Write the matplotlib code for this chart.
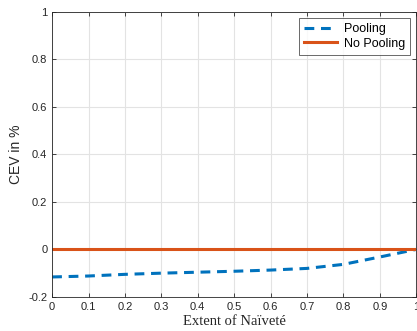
import matplotlib
matplotlib.use("Agg")
import matplotlib.pyplot as plt
import numpy as np

naivete = [0, 0.1, 0.2, 0.3, 0.4, 0.5, 0.6, 0.7, 0.8, 0.9, 1.0]
pooling = [-0.116, -0.112, -0.105, -0.100, -0.096, -0.092, -0.087, -0.080, -0.063, -0.032, 0.0]
no_pooling = [0.0] * len(naivete)

xticks = [0, 0.1, 0.2, 0.3, 0.4, 0.5, 0.6, 0.7, 0.8, 0.9, 1]
xticklabels = ["0", "0.1", "0.2", "0.3", "0.4", "0.5", "0.6", "0.7", "0.8", "0.9", "1"]
yticks = [-0.2, 0, 0.2, 0.4, 0.6, 0.8, 1]
yticklabels = ["-0.2", "0", "0.2", "0.4", "0.6", "0.8", "1"]

plt.rcParams['font.family'] = ['Liberation Sans', 'DejaVu Sans']

fig = plt.figure(figsize=(4.17, 3.31), dpi=100)
ax = fig.add_axes([0.125, 0.103, 0.873, 0.861])

ax.plot(naivete, pooling, linestyle=(0, (3.2, 2.2)), color='#0072BD', lw=2.2, label='Pooling')
ax.plot(naivete, no_pooling, color='#D95319', lw=2.2, label='No Pooling')

ax.set_xlim(0, 1)
ax.set_ylim(-0.2, 1)
ax.set_xticks(xticks)
ax.set_xticklabels(xticklabels)
ax.set_yticks(yticks)
ax.set_yticklabels(yticklabels)
ax.grid(True, color='#e3e3e3', lw=0.8)
ax.set_axisbelow(True)
ax.tick_params(direction='in', length=3, labelsize=8, colors='#262626', width=0.6, top=True, right=True, labeltop=False, labelright=False)
for s in ax.spines.values():
    s.set_color('#262626')
    s.set_linewidth(0.6)

ax.set_ylabel('CEV in %', fontsize=10, color='#262626')
ax.set_xlabel('Extent of Naïveté', fontsize=10.5, family=['Liberation Serif', 'DejaVu Serif'], color='#262626', labelpad=2)

leg = ax.legend(loc='upper right', fontsize=9, frameon=True, fancybox=False, handlelength=2.7, handletextpad=0.5, borderpad=0.4, labelspacing=0.2)
leg.get_frame().set_edgecolor('#262626')
leg.get_frame().set_linewidth(0.6)

fig.savefig('out.png', dpi=100)
